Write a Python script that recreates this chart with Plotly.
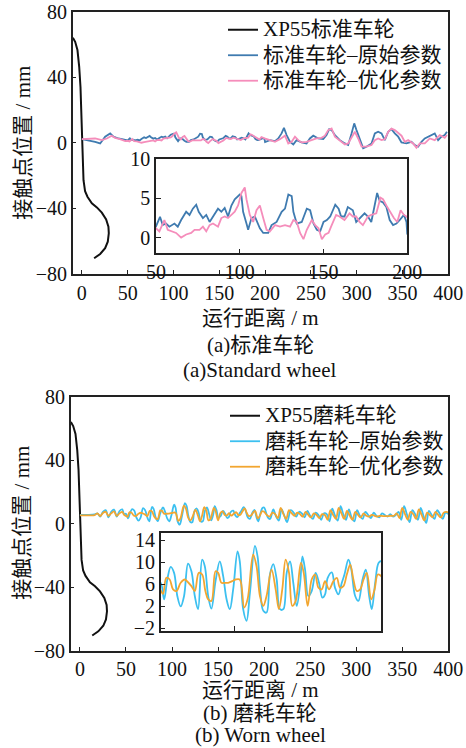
import plotly.graph_objects as go

# ---------------- data ----------------
# wheel profile (same in both panels)
prof_x = [-9.8, -7.3, -4.8, -2.9, -1.5, -0.4, 0.0, 1.0, 1.8, 3.5, 6.1, 10.9, 16.4, 21.8, 26.5, 29.0, 29.4, 28.3, 25.4, 20.0, 13.4]
prof_y = [64.0, 61.5, 56.5, 46.3, 34.0, 17.9, 1.6, -12.0, -22.8, -29.5, -32.9, -36.9, -39.4, -42.6, -46.7, -51.1, -55.2, -60.3, -64.3, -67.8, -70.4]

# standard wheel - original parameters
std_orig_x = [0, 7.3, 14.5, 20, 25.4, 30.9, 34.5, 40, 47.3,
              50, 52.4, 54, 56, 58, 61, 63, 65, 68, 70, 72, 74, 75.5, 78, 80, 82, 85, 87, 89, 91, 93, 95, 97,
              100, 101, 102, 104, 105, 107, 109, 112, 114, 117, 119, 122, 125, 127, 129, 131, 132, 134, 137,
              140, 142, 144, 146, 148, 150, 152, 154, 157, 159, 160.5, 162.5, 164.5, 167.5, 169.5, 172.5,
              174.5, 176.5, 178.5, 180.5, 182, 183.5, 185.5, 187.5, 189.5, 191.5, 193.5, 195.5, 198, 199.5, 200,
              205.3, 210.8, 214.4, 218.0, 220.6, 223.5, 227.1, 230.8, 234.4, 239.8, 245.3, 248.9, 252.6, 258.0,
              263.5, 267.1, 270.0, 272.6, 276.2, 281.6, 287.1, 290.7, 294.4, 297.3, 299.8, 303.5, 307.1, 310.7,
              316.2, 319.8, 323.4, 327.1, 330.7, 334.4, 338.0, 341.6, 345.3, 348.9, 354.3, 359.8, 363.4, 367.1,
              370.7, 374.3, 378.0, 381.6, 385.2, 388.9, 392.5, 396.1, 398.5]
std_orig_y = [2.2, 1.6, 0.6, -0.4, 3.7, 5.7, 3.7, 2.6, 1.6,
              1.43, 2.66, 1.6, 1.8, 1.4, 1.8, 1.4, 2.25, 3.3, 2.9, 3.7, 4.2, 3.3, 2.5, 2.9, 2.0, 3.1, 3.7, 3.3, 3.8, 2.7, 4.1, 4.9,
              5.5, 5.3, 3.3, 1.8, 1.0, 2.5, 2.7, 1.2, 0.6, 0.6, 1.6, 2.0, 3.3, 3.7, 5.5, 5.3, 3.3, 1.8, 2.0,
              3.7, 3.5, 1.8, 1.0, 0.8, 2.0, 2.25, 2.7, 4.2, 3.7, 2.7, 2.7, 3.9, 3.5, 2.0, 2.7,
              3.1, 2.7, 2.0, 4.1, 5.7, 4.7, 4.5, 3.9, 2.25, 1.6, 1.8, 2.25, 2.9, 2.0, 0.4,
              1.6, 1.0, 2.6, 5.7, 9.1, 4.7, 0.6, -1.0, 1.6, 0.2, -0.4, 2.6, 4.3, 2.6,
              2.2, 4.7, 8.3, 7.7, 4.7, 1.6, -0.4, -1.4, 5.7, 11.8, 7.7, 1.6, -3.4, -2.4,
              -0.4, 5.7, 6.7, 5.7, 1.6, 6.7, 8.3, 5.7, 3.7, 0.2, -0.4, 0.6, -1.4, -2.4,
              0.6, 2.6, 3.7, 4.7, 5.7, 1.6, 3.7, 4.7, 6.7]

# standard wheel - optimised parameters
std_opt_x = [0, 7.3, 14.5, 21.8, 27.2, 32.6, 36.2, 41.6, 47.3,
             50, 52, 55, 57, 60, 62, 65, 68, 71, 73, 76, 78, 80, 82, 84, 87, 89, 91, 93, 95, 97, 99,
             101, 103, 104, 106, 108, 110, 112, 114, 116, 118, 121, 124, 127, 130, 132, 134, 136, 138,
             140, 143, 145, 147, 149, 151, 153, 154.5, 157.5, 159.5, 162.5, 165.5, 167.5, 169.5, 171.5,
             173.5, 176.5, 178.5, 181.5, 184, 185.5, 187.5, 189.5, 192, 194, 196, 198, 199.5,
             205.3, 210.8, 216.2, 221.7, 225.3, 229.0, 232.6, 236.2, 239.8, 245.3, 250.7, 256.2, 261.6,
             265.3, 268.9, 272.6, 276.2, 281.6, 287.1, 290.7, 294.4, 298.0, 301.6, 305.3, 310.7, 316.2,
             319.8, 323.4, 327.1, 330.7, 334.4, 338.0, 341.6, 345.3, 348.9, 352.5, 356.2, 361.6, 365.2,
             368.9, 374.3, 379.8, 385.2, 390.7, 396.1, 398.5]
std_opt_y = [2.2, 2.2, 2.6, 1.6, 2.6, 4.3, 3.0, 2.2, 1.0,
             1.2, 0.8, 2.25, 1.0, 0.8, 0.6, 0.0, 0.4, 0.6, 1.0, 1.0, 1.4, 0.8, 1.6, 1.8, 1.4, 2.5, 2.7, 2.5, 2.9, 3.3, 4.1,
             5.7, 6.4, 4.9, 2.9, 2.0, 3.5, 4.1, 2.5, 1.0, 0.8, 1.6, 1.4, 1.6, 1.4, 2.25, 2.0, 0.6, -0.2,
             1.0, 2.25, 1.6, 1.2, -0.2, 0.4, 0.6, 1.4, 2.9, 2.7, 2.25, 3.1, 2.7, 2.7, 2.0,
             1.6, 2.7, 2.9, 3.1, 5.1, 4.9, 4.1, 3.3, 2.5, 2.0, 3.5, 2.9, 2.7,
             1.6, 0.6, 2.2, 4.3, -0.4, 0.6, 3.7, 1.6, 0.2, 0.6, 1.6, 2.6, 3.0,
             4.3, 7.7, 8.7, 3.7, 1.6, -1.0, -0.4, 3.7, 6.7, 2.6, -2.4, -2.4, -1.4,
             1.6, 2.6, 1.6, 2.2, 6.7, 8.7, 7.7, 5.7, 4.3, 0.6, 1.6, -0.4, -3.0,
             -0.4, -0.4, 2.6, 1.6, 4.7, 3.0, 4.7]

# worn wheel - original parameters
worn_orig_x = [0, 8, 16, 19, 22, 25, 28, 31, 34, 37, 40, 43, 46, 48,
               50.0, 52.3, 54.5, 56.8, 59.1, 61.3, 63.6, 65.9, 68.6, 70.9, 73.2, 75.4, 78.2, 80.0, 82.3, 84.5,
               87.3, 90.2, 92.5, 94.8, 97.0, 99.3, 102.3, 103.8, 106.1, 108.4, 110.7, 114.1, 115.9, 117.5,
               119.8, 122.0, 124.3, 126.6, 128.9, 131.1, 133.4, 135.7, 138.0, 140.2, 142.5, 144.8, 146.4,
               148.2, 150.4, 152.7, 155.4, 157.7, 160.0, 161.8, 163.6, 166.4, 168.6, 170.9, 173.2, 175.0,
               177.7, 179.5, 182.3, 184.5, 187.3, 189.5, 191.8, 193.6, 195.9, 198.2, 200.0,
               204, 206.5, 210, 213, 216, 219, 222, 225, 229, 232, 235, 238, 241, 244, 247, 250, 253, 256,
               259, 262, 265, 268, 271, 274, 277, 280, 283, 286, 289, 292, 295, 298, 301, 304, 307, 310,
               313, 316, 319, 322, 325, 328, 331, 334, 337, 340, 343, 346, 349, 352, 355, 358, 361, 364,
               367, 370, 373, 376, 379, 382, 385, 388, 391, 394, 397, 400]
worn_orig_y = [5.5, 5.5, 5.8, 6.5, 4.5, 7.5, 8.5, 4.0, 7.5, 8.8, 4.5, 8.0, 9.0, 6.0,
               6.3, 3.3, 6.9, 9.2, 8.1, 3.9, 2.0, 3.9, 9.8, 8.4, 3.9, 1.5, 10.5, 9.3, 3.9, 1.6,
               6.6, 10.2, 7.5, 3.3, 1.5, 5.1, 12.0, 10.2, 1.5, -0.6, 4.5, 13.0, 11.1, 5.7,
               1.2, 0.9, 7.8, 9.7, 6.9, 1.5, 1.5, 8.1, 10.2, 6.3, 2.1, 6.0, 11.1,
               8.7, 3.9, 4.8, 8.1, 6.3, 3.6, 4.2, 7.2, 8.2, 5.4, 4.2, 6.3, 7.8,
               10.5, 9.0, 3.9, 3.0, 6.9, 8.7, 3.9, 1.5, 6.3, 9.9, 10.2,
               4.0, 3.0, 9.0, 4.5, 2.0, 9.0, 5.0, 1.0, 8.5, 7.0, 4.5, 7.5, 6.5, 4.0, 8.0, 5.0, 3.0, 7.0,
               5.5, 2.5, 6.5, 6.0, 1.5, 9.5, 5.0, 2.0, 11.0, 6.0, 2.5, 9.0, 4.0, 1.5, 8.5, 5.0, 3.0, 7.5,
               5.5, 3.5, 7.0, 5.0, 4.0, 6.5, 5.5, 4.5, 6.0, 4.5, 5.5, 7.5, 2.5, 11.0, 6.0, 1.0, 8.5, 6.0,
               2.5, 10.0, 5.0, 0.5, 8.0, 5.5, 3.0, 8.5, 6.0, 3.0, 7.0, 6.0]

# worn wheel - optimised parameters
worn_opt_x = [0, 10, 16, 19, 22, 25, 28, 31, 34, 37, 40, 43, 46, 48,
              50.0, 51.6, 53.8, 56.1, 58.4, 60.7, 63.6, 66.3, 68.6, 70.9, 73.2, 75.9, 78.2, 80.4, 82.3, 84.5,
              87.3, 89.1, 91.3, 93.6, 95.9, 98.6, 100.9, 103.8, 106.8, 109.1, 112.9, 115.2, 117.5, 119.8,
              122.0, 125.4, 128.2, 130.4, 132.7, 135.0, 137.3, 139.5, 141.8, 145.4, 147.3, 150.0, 152.7,
              155.0, 157.3, 159.5, 161.8, 164.5, 167.5, 169.8, 172.0, 174.3, 176.6, 178.9, 181.1, 183.4,
              185.7, 188.0, 190.2, 193.2, 195.5, 197.7, 200.0,
              203, 206, 209, 212, 215, 218, 221, 224, 227, 230, 233, 236, 239, 242, 245, 248, 251, 254,
              257, 260, 263, 266, 269, 272, 275, 278, 281, 284, 287, 290, 293, 296, 299, 302, 305, 308,
              311, 314, 317, 320, 323, 326, 329, 332, 335, 338, 341, 344, 347, 350, 353, 356, 359, 362,
              365, 368, 371, 374, 377, 380, 383, 386, 389, 392, 395, 398, 400]
worn_opt_y = [5.2, 5.3, 5.4, 6.5, 4.8, 6.8, 7.5, 5.0, 6.5, 7.8, 5.0, 6.5, 7.5, 5.5,
              4.9, 4.3, 7.2, 6.9, 5.1, 4.8, 6.3, 6.9, 6.4, 5.7, 4.8, 8.1, 7.8, 4.8, 3.3, 3.0,
              8.4, 8.1, 6.3, 6.3, 6.3, 6.6, 6.9, 6.9, 1.8, 3.3, 11.4, 9.3, 3.9, 2.1,
              3.9, 8.7, 5.1, 1.5, 5.1, 10.5, 8.1, 2.1, 3.0, 9.9, 8.1, 2.1, 6.9,
              7.8, 5.4, 5.1, 6.6, 5.1, 6.6, 7.2, 5.4, 5.7, 7.8, 9.6, 6.9, 4.8,
              5.1, 6.9, 8.1, 3.3, 5.1, 7.8, 7.5,
              5.5, 4.5, 7.0, 6.0, 3.5, 10.0, 6.0, 3.0, 8.5, 6.5, 5.0, 7.0, 6.0, 4.5, 7.5, 5.5, 4.0, 6.5,
              5.5, 3.5, 6.0, 5.5, 2.5, 8.5, 5.5, 3.0, 10.0, 6.5, 3.0, 8.0, 5.0, 2.5, 7.5, 5.5, 4.0, 6.5,
              5.0, 4.5, 5.5, 5.0, 4.5, 5.0, 4.8, 4.8, 4.8, 5.0, 5.0, 6.5, 3.5, 10.0, 6.0, 2.5, 7.5, 6.0,
              3.0, 9.0, 5.5, 2.0, 7.0, 5.5, 4.0, 7.5, 5.5, 4.0, 7.0, 7.5, 7.0]

x_ticks_main = [0, 50, 100, 150, 200, 250, 300, 350, 400]
y_ticks_main = [-80, -40, 0, 40, 80]
inset_a_xticks = [50, 100, 150, 200]
inset_a_yticks = [0, 5, 10]
inset_b_xticks = [100, 150]
inset_b_yticks = [-2, 2, 6, 10, 14]

# ---------------- styling ----------------
W, H = 466, 748
FONT = "Liberation Serif, Times New Roman, Noto Sans CJK SC, serif"
BLACK = "#111111"
BLUE = "#3F7BB0"
PINK = "#F58DBB"
CYAN = "#3CC0F0"
ORANGE = "#F2A630"

def px_x(p):
    return p / W

def px_y(p):
    return 1 - p / H

fig = go.Figure()

def leg(t):
    return '<span style="font-size:21px">' + t + '</span>'

# panel (a)
fig.add_trace(go.Scatter(x=prof_x, y=prof_y, mode="lines", line=dict(color=BLACK, width=2),
                         name=leg("XP55标准车轮"), xaxis="x", yaxis="y", legend="legend"))
fig.add_trace(go.Scatter(x=std_orig_x, y=std_orig_y, mode="lines", line=dict(color=BLUE, width=1.8),
                         name=leg("标准车轮–原始参数"), xaxis="x", yaxis="y", legend="legend"))
fig.add_trace(go.Scatter(x=std_opt_x, y=std_opt_y, mode="lines", line=dict(color=PINK, width=1.8),
                         name=leg("标准车轮–优化参数"), xaxis="x", yaxis="y", legend="legend"))
fig.add_trace(go.Scatter(x=std_orig_x, y=std_orig_y, mode="lines", line=dict(color=BLUE, width=1.8),
                         showlegend=False, xaxis="x2", yaxis="y2"))
fig.add_trace(go.Scatter(x=std_opt_x, y=std_opt_y, mode="lines", line=dict(color=PINK, width=1.8),
                         showlegend=False, xaxis="x2", yaxis="y2"))

# panel (b)
fig.add_trace(go.Scatter(x=prof_x, y=prof_y, mode="lines", line=dict(color=BLACK, width=2),
                         name=leg("XP55磨耗车轮"), xaxis="x3", yaxis="y3", legend="legend2"))
fig.add_trace(go.Scatter(x=worn_orig_x, y=worn_orig_y, mode="lines", line=dict(color=CYAN, width=1.8, shape="spline"),
                         name=leg("磨耗车轮–原始参数"), xaxis="x3", yaxis="y3", legend="legend2"))
fig.add_trace(go.Scatter(x=worn_opt_x, y=worn_opt_y, mode="lines", line=dict(color=ORANGE, width=1.8, shape="spline"),
                         name=leg("磨耗车轮–优化参数"), xaxis="x3", yaxis="y3", legend="legend2"))
fig.add_trace(go.Scatter(x=worn_orig_x, y=worn_orig_y, mode="lines", line=dict(color=CYAN, width=1.8, shape="spline"),
                         showlegend=False, xaxis="x4", yaxis="y4"))
fig.add_trace(go.Scatter(x=worn_opt_x, y=worn_opt_y, mode="lines", line=dict(color=ORANGE, width=1.8, shape="spline"),
                         showlegend=False, xaxis="x4", yaxis="y4"))

axis_common = dict(showline=True, linecolor="#222222", linewidth=1.5, mirror=True,
                   ticks="inside", ticklen=4, tickwidth=1.2, tickcolor="#222222",
                   showgrid=False, zeroline=False, automargin=False,
                   tickfont=dict(family=FONT, size=20, color="#111111"))

main_x = dict(axis_common, range=[-10, 400], tickvals=x_ticks_main)
main_y = dict(axis_common, range=[-80, 80], tickvals=y_ticks_main)

fig.update_layout(
    width=W, height=H,
    margin=dict(l=0, r=0, t=0, b=0, autoexpand=False),
    paper_bgcolor="white", plot_bgcolor="white",
    font=dict(family=FONT, size=20, color="#111111"),
    xaxis=dict(main_x, domain=[px_x(72.7), px_x(448.3)], anchor="y"),
    yaxis=dict(main_y, domain=[px_y(274), px_y(11.5)], anchor="x"),
    xaxis2=dict(axis_common, range=[50, 200], tickvals=inset_a_xticks, ticklen=5,
                domain=[px_x(156), px_x(407.3)], anchor="y2"),
    yaxis2=dict(axis_common, range=[-2, 10], tickvals=inset_a_yticks, ticklen=5,
                domain=[px_y(253.3), px_y(159.3)], anchor="x2"),
    xaxis3=dict(main_x, domain=[px_x(70.7), px_x(448.3)], anchor="y3"),
    yaxis3=dict(main_y, domain=[px_y(650.7), px_y(396.7)], anchor="x3"),
    xaxis4=dict(axis_common, range=[50, 200], tickvals=inset_b_xticks, ticklen=5, showticklabels=False,
                domain=[px_x(160.7), px_x(381.2)], anchor="y4"),
    yaxis4=dict(axis_common, range=[-2.5, 15.3], tickvals=inset_b_yticks, ticklen=5,
                domain=[px_y(631.2), px_y(533.3)], anchor="x4"),
    legend=dict(x=px_x(223), y=px_y(12), xanchor="left", yanchor="top",
                bgcolor="rgba(0,0,0,0)", borderwidth=0, tracegroupgap=0,
                font=dict(family=FONT, size=17.3, color="#111111")),
    legend2=dict(x=px_x(225), y=px_y(398), xanchor="left", yanchor="top",
                 bgcolor="rgba(0,0,0,0)", borderwidth=0, tracegroupgap=0,
                 font=dict(family=FONT, size=17.3, color="#111111")),
    showlegend=True,
)

def ann(text, x, y, size=21, angle=0):
    fig.add_annotation(text=text, x=px_x(x), y=px_y(y), xref="paper", yref="paper",
                       xanchor="center", yanchor="middle", showarrow=False, textangle=angle,
                       font=dict(family=FONT, size=size, color="#111111"))

ann("接触点位置 / mm", 23, 142.7, angle=-90)
ann("运行距离 / m", 260, 318)
ann("(a)标准车轮", 260, 345)
ann("(a)Standard wheel", 260, 370)

ann("接触点位置 / mm", 22, 522.7, angle=-90)
ann("运行距离 / m", 260, 690)
ann("(b) 磨耗车轮", 260, 713)
ann("(b) Worn wheel", 260, 735)

fig.write_html("out.html")
